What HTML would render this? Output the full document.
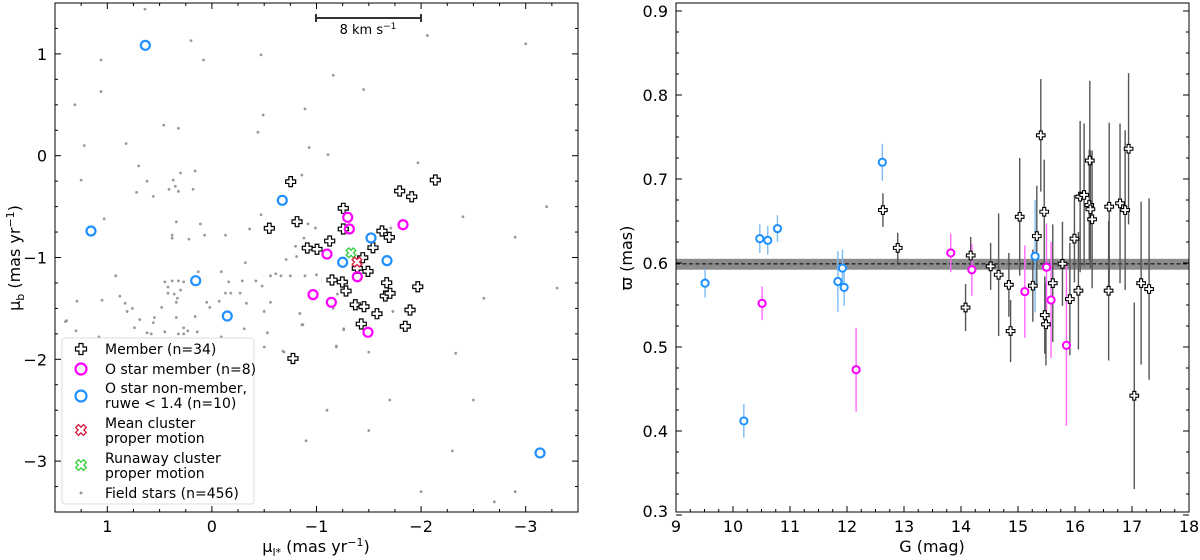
<!DOCTYPE html>
<html><head><meta charset="utf-8"><style>
body{margin:0;background:#fff}
svg{display:block;font-family:"DejaVu Sans","Liberation Sans",sans-serif}
</style></head><body>
<svg id="c" width="1200" height="560" viewBox="0 0 1200 560"></svg>
<script>
// ---------- Left panel data (proper motions, mas/yr) ----------
const memMuL=[-0.753,-0.549,-0.814,-1.256,-1.256,-1.126,-0.912,-1.005,-1.795,-1.910,-2.136,-1.626,-1.696,-1.540,-1.442,-1.390,-1.492,-1.148,-1.247,-1.282,-1.671,-1.968,-1.658,-1.703,-1.371,-1.454,-1.578,-1.894,-1.428,-1.849,-0.775];
const memMuB=[-0.255,-0.713,-0.648,-0.517,-0.720,-0.838,-0.907,-0.919,-0.347,-0.403,-0.239,-0.740,-0.802,-0.904,-1.002,-1.106,-1.136,-1.221,-1.241,-1.329,-1.248,-1.287,-1.378,-1.352,-1.464,-1.483,-1.552,-1.516,-1.653,-1.676,-1.992];
const oMemMuL=[-1.298,-1.314,-1.827,-1.100,-1.390,-0.967,-1.142,-1.492];
const oMemMuB=[-0.605,-0.720,-0.678,-0.966,-1.189,-1.365,-1.440,-1.735];
const oNonMuL=[0.636,-0.673,1.156,0.155,-0.147,-1.250,-1.521,-1.674,-3.137];
const oNonMuB=[1.084,-0.438,-0.740,-1.228,-1.575,-1.047,-0.808,-1.031,-2.92];
const meanPM=[-1.387,-1.044];
const runawayPM=[-1.330,-0.953];
const fieldMuL=[0.64,0.20,0.08,1.06,1.06,-0.47,-1.16,1.31,-0.49,-0.89,0.46,0.32,-0.44,1.22,0.82,-0.93,-1.11,0.70,0.30,0.16,-0.86,1.25,0.62,0.37,0.35,0.41,0.32,0.18,0.72,0.56,1.03,-0.47,0.34,0.11,-0.36,-0.92,-0.99,0.38,0.38,0.22,0.07,-0.13,-0.88,-0.71,-0.81,-0.32,-0.80,0.92,0.13,-0.09,0.45,0.38,0.32,0.27,-0.16,-0.29,-0.42,-0.56,-0.61,-0.66,-0.75,-0.89,0.42,0.42,0.36,0.30,-0.13,-0.18,-0.27,-0.48,0.88,0.33,-0.07,-0.33,-0.56,1.29,1.05,0.83,0.76,0.81,0.48,0.34,0.05,0.02,-0.50,-0.84,-1.16,1.39,1.40,0.69,0.55,0.56,0.34,0.16,-0.86,0.74,1.30,0.27,0.23,0.14,-0.31,0.62,0.58,0.45,0.32,0.27,1.08,-0.09,-0.53,-1.19,-1.26,-0.68,-0.50,-2.06,-1.45,-1.97,-1.71,-1.00,-1.20,-0.84,-0.87,-1.26,-1.73,-1.19,-0.69,-1.50,-2.33,-3.2,-3.3,-2.9,-2.7,-2.5,-2.0,-1.7,-1.1,-0.9,-1.5,-2.3,-2.6,-2.9,-3.0,-2.4];
const fieldMuB=[1.44,1.13,0.94,0.94,0.63,0.99,0.79,0.50,0.40,0.46,0.30,0.27,0.23,0.10,0.12,0.08,0.01,-0.10,-0.17,-0.15,-0.19,-0.24,-0.25,-0.24,-0.30,-0.33,-0.35,-0.33,-0.36,-0.40,-0.62,-0.58,-0.65,-0.67,-0.72,-0.67,-0.71,-0.78,-0.81,-0.82,-0.78,-0.78,-0.81,-1.02,-0.99,-1.05,-0.89,-1.18,-1.14,-1.14,-1.24,-1.23,-1.23,-1.24,-1.24,-1.23,-1.23,-1.18,-1.16,-1.18,-1.18,-1.18,-1.29,-1.35,-1.36,-1.32,-1.35,-1.35,-1.35,-1.28,-1.38,-1.40,-1.43,-1.45,-1.44,-1.43,-1.42,-1.45,-1.50,-1.53,-1.49,-1.44,-1.44,-1.49,-1.53,-1.55,-1.50,-1.62,-1.63,-1.61,-1.59,-1.64,-1.59,-1.58,-1.66,-1.69,-1.72,-1.69,-1.72,-1.73,-1.70,-1.74,-1.75,-1.73,-1.75,-1.75,-1.78,-1.78,-1.74,-1.87,-1.70,-1.92,-1.88,1.18,0.65,-0.07,-0.71,-1.17,-1.36,-1.55,-1.66,-1.71,-1.53,-1.88,-1.93,-1.93,-1.94,-0.5,-1.3,-3.3,-3.4,-2.4,-3.3,-2.4,-2.5,-2.8,-2.7,-2.9,-1.4,-0.8,1.1,-0.6];
const leftXTicks=[1,0,-1,-2,-3];
const leftYTicks=[1,0,-1,-2,-3];

// ---------- Right panel data (G mag, parallax mas, error) ----------
const memG=[12.63,12.89,14.17,14.08,14.52,14.66,14.84,14.87,15.03,15.26,15.33,15.40,15.46,15.61,15.47,15.49,15.78,15.91,15.99,16.06,16.09,16.16,16.26,16.25,16.27,16.30,16.60,16.59,16.79,16.88,16.94,17.04,17.16,17.30];
const memPlx=[0.663,0.618,0.609,0.547,0.596,0.586,0.574,0.519,0.655,0.573,0.632,0.752,0.661,0.576,0.538,0.527,0.599,0.557,0.629,0.567,0.679,0.681,0.722,0.669,0.664,0.652,0.667,0.567,0.671,0.663,0.736,0.442,0.576,0.569];
const memErr=[0.02,0.018,0.022,0.028,0.028,0.073,0.038,0.037,0.07,0.043,0.06,0.067,0.062,0.07,0.046,0.049,0.05,0.067,0.052,0.07,0.09,0.085,0.095,0.066,0.07,0.082,0.1,0.083,0.095,0.095,0.09,0.111,0.097,0.108];
const oMemG=[10.51,12.16,13.82,14.19,15.12,15.50,15.58,15.85];
const oMemPlx=[0.552,0.473,0.612,0.592,0.566,0.595,0.556,0.502];
const oMemErr=[0.02,0.05,0.023,0.031,0.055,0.052,0.069,0.096];
const oNonG=[9.51,10.19,10.47,10.61,10.78,11.84,11.92,11.95,12.62,15.30];
const oNonPlx=[0.576,0.412,0.629,0.627,0.641,0.578,0.594,0.571,0.72,0.608];
const oNonErr=[0.017,0.02,0.017,0.017,0.016,0.036,0.022,0.022,0.022,0.067];
const meanPlx=0.599, meanPlxLo=0.592, meanPlxHi=0.605;
const rightXTicks=[9,10,11,12,13,14,15,16,17,18];
const rightYTicks=[0.3,0.4,0.5,0.6,0.7,0.8,0.9];

const NS='http://www.w3.org/2000/svg';
const svg=document.getElementById('c');
function mk(tag,attrs,parent){const e=document.createElementNS(NS,tag);for(const k in attrs)e.setAttribute(k,attrs[k]);(parent||svg).appendChild(e);return e;}

const L={x0:55,x1:578,y0:3,y1:512};
const lx=v=>L.x0+(1.5-v)*(L.x1-L.x0)/5;
const ly=v=>L.y0+(1.5-v)*(L.y1-L.y0)/5;
const R={x0:676,x1:1189,y0:3,y1:512};
const rx=v=>R.x0+(v-9)*(R.x1-R.x0)/9;
const ry=v=>263-(v-0.6)*840;

function plusPts(a,b){return [[-b,-a],[b,-a],[b,-b],[a,-b],[a,b],[b,b],[b,a],[-b,a],[-b,b],[-a,b],[-a,-b],[-b,-b]].map(p=>p.join(',')).join(' ');}

const gL=mk('g',{});


fieldMuL.forEach((v,i)=>{
  const d=mk('circle',{cx:lx(v),cy:ly(fieldMuB[i]),r:1.4,fill:'#999'},gL);
  
  
});
memMuL.forEach((v,i)=>{
  const p=mk('polygon',{points:plusPts(5,1.8),transform:`translate(${lx(v)},${ly(memMuB[i])})`,fill:'#fff',stroke:'#000','stroke-width':1.2},gL);
  
  
});
oMemMuL.forEach((v,i)=>{
  const c=mk('circle',{cx:lx(v),cy:ly(oMemMuB[i]),r:4.5,fill:'none',stroke:'#ff00ff','stroke-width':2.2},gL);
  
  
});
oNonMuL.forEach((v,i)=>{
  const c=mk('circle',{cx:lx(v),cy:ly(oNonMuB[i]),r:4.5,fill:'none',stroke:'#1e90ff','stroke-width':2.2},gL);
  
  
});
{
  const m=mk('polygon',{points:plusPts(5,1.8),transform:`translate(${lx(runawayPM[0])},${ly(runawayPM[1])}) rotate(45)`,fill:'#fff',stroke:'#33cc33','stroke-width':1.3},gL);
  
  
  const r=mk('polygon',{points:plusPts(5,1.8),transform:`translate(${lx(meanPM[0])},${ly(meanPM[1])}) rotate(45)`,fill:'#fff',stroke:'#dc143c','stroke-width':1.3},gL);
  
  
}
function frame(A,g){
  const f=mk('rect',{x:A.x0,y:A.y0,width:A.x1-A.x0,height:A.y1-A.y0,fill:'none',stroke:'#000','stroke-width':1},g);
  
  
}
frame(L,gL);
for(let k=0;k<=20;k++){
  const v=1.5-k*0.25, major=Math.abs(v-Math.round(v))<1e-6, len=major?6:3;
  const x=lx(v);
  mk('line',{x1:x,y1:L.y1,x2:x,y2:L.y1-len,stroke:'#000'},gL);
  mk('line',{x1:x,y1:L.y0,x2:x,y2:L.y0+len,stroke:'#000'},gL);
  const y=ly(v);
  mk('line',{x1:L.x0,y1:y,x2:L.x0+len,y2:y,stroke:'#000'},gL);
  mk('line',{x1:L.x1,y1:y,x2:L.x1-len,y2:y,stroke:'#000'},gL);
}
const fmt=v=>(v<0?'\u2212':'')+Math.abs(v);
leftXTicks.forEach(v=>{const t=mk('text',{x:lx(v),y:532,'font-size':16,'text-anchor':'middle'},gL);t.textContent=fmt(v);});
leftYTicks.forEach(v=>{const t=mk('text',{x:47,y:ly(v)+6,'font-size':16,'text-anchor':'end'},gL);t.textContent=fmt(v);});

(function(){
function T(x,y,html,attrs,name){const t=mk('text',Object.assign({x:x,y:y,'font-size':16},attrs||{}));t.innerHTML=html;return t;}
T(316,552,'μ<tspan font-size="11" dy="4">l*</tspan><tspan dy="-4"> (mas yr</tspan><tspan font-size="11" dy="-6">−1</tspan><tspan dy="6">)</tspan>',{'text-anchor':'middle'},'x-axis-title');
T(0,0,'μ<tspan font-size="11" dy="4">b</tspan><tspan dy="-4"> (mas yr</tspan><tspan font-size="11" dy="-6">−1</tspan><tspan dy="6">)</tspan>',{'text-anchor':'middle',transform:'translate(20,258) rotate(-90)'},'y-axis-title');
const sb=mk('g',{});


mk('line',{x1:316,y1:18,x2:421,y2:18,stroke:'#333','stroke-width':2},sb);
mk('line',{x1:316,y1:14,x2:316,y2:22,stroke:'#333','stroke-width':2},sb);
mk('line',{x1:421,y1:14,x2:421,y2:22,stroke:'#333','stroke-width':2},sb);
const st=mk('text',{x:368,y:34,'font-size':13,'text-anchor':'middle'},sb);
st.innerHTML='8 km s<tspan font-size="9" dy="-5">−1</tspan>';
const lg=mk('g',{});


mk('rect',{x:62,y:338,width:192,height:166,rx:3,fill:'#fff','fill-opacity':0.85,stroke:'#ddd'},lg);
mk('polygon',{points:plusPts(5.5,2),transform:'translate(81,349)',fill:'#fff',stroke:'#000','stroke-width':1.2},lg);
mk('circle',{cx:81,cy:369,r:5.5,fill:'none',stroke:'#ff00ff','stroke-width':2.2},lg);
mk('circle',{cx:81,cy:396,r:5.5,fill:'none',stroke:'#1e90ff','stroke-width':2.2},lg);
mk('polygon',{points:plusPts(5.5,2),transform:'translate(81,430) rotate(45)',fill:'#fff',stroke:'#dc143c','stroke-width':1.3},lg);
mk('polygon',{points:plusPts(5.5,2),transform:'translate(81,465) rotate(45)',fill:'#fff',stroke:'#33cc33','stroke-width':1.3},lg);
mk('circle',{cx:81,cy:493,r:1.5,fill:'#999'},lg);
[['Member (n=34)',354],['O star member (n=8)',374],['O star non-member,',393],['ruwe < 1.4 (n=10)',408],['Mean cluster',428],['proper motion',443],['Runaway cluster',463],['proper motion',478],['Field stars (n=456)',498]].forEach(a=>{
  const t=mk('text',{x:105,y:a[1],'font-size':14},lg);t.textContent=a[0];
  
  
});

const gR=mk('g',{});


const band=mk('rect',{x:R.x0,y:ry(meanPlxHi),width:R.x1-R.x0,height:ry(meanPlxLo)-ry(meanPlxHi),fill:'#8c8c8c'},gR);


const ml=mk('line',{x1:R.x0,y1:ry(meanPlx),x2:R.x1,y2:ry(meanPlx),stroke:'#000','stroke-width':1,'stroke-dasharray':'4,2.5'},gR);


function errs(G,P,E,col,name){G.forEach((g,i)=>{const l=mk('line',{x1:rx(g),x2:rx(g),y1:ry(P[i]-E[i]),y2:ry(P[i]+E[i]),stroke:col,'stroke-width':1.4},gR);});}
errs(memG,memPlx,memErr,'#555','member-error-bar');
errs(oMemG,oMemPlx,oMemErr,'#ff66ff','o-member-error-bar');
errs(oNonG,oNonPlx,oNonErr,'#7cbcf5','o-non-member-error-bar');
memG.forEach((g,i)=>{const p=mk('polygon',{points:plusPts(4.3,1.5),transform:`translate(${rx(g)},${ry(memPlx[i])})`,fill:'#fff',stroke:'#000','stroke-width':1.1},gR);});
oMemG.forEach((g,i)=>{const c=mk('circle',{cx:rx(g),cy:ry(oMemPlx[i]),r:3.6,fill:'#fff',stroke:'#ff00ff','stroke-width':2},gR);});
oNonG.forEach((g,i)=>{const c=mk('circle',{cx:rx(g),cy:ry(oNonPlx[i]),r:3.6,fill:'#fff',stroke:'#1e90ff','stroke-width':2},gR);});
frame(R,gR);
for(let k=0;k<=36;k++){const v=9+k*0.25,major=k%4==0,len=major?6:3,x=rx(v);
  mk('line',{x1:x,y1:R.y1,x2:x,y2:R.y1-len,stroke:'#000'},gR);}
for(let k=0;k<=24;k++){const v=0.3+k*0.025,major=k%4==0,len=major?6:3,y=ry(v);
  if(y<R.y0-0.5)continue;
  mk('line',{x1:R.x0,y1:y,x2:R.x0+len,y2:y,stroke:'#000'},gR);
  mk('line',{x1:R.x1,y1:y,x2:R.x1-len,y2:y,stroke:'#000'},gR);}
rightXTicks.forEach(v=>{const t=mk('text',{x:rx(v),y:532,'font-size':16,'text-anchor':'middle'},gR);t.textContent=v;});
rightYTicks.forEach(v=>{const t=mk('text',{x:668,y:Math.min(ry(v)+6,517),'font-size':16,'text-anchor':'end'},gR);t.textContent=v.toFixed(1);});
T(932,552,'G (mag)',{'text-anchor':'middle'},'x-axis-title-right');
T(0,0,'ϖ (mas)',{'text-anchor':'middle',transform:'translate(632,258) rotate(-90)'},'y-axis-title-right');
})();
</script>
</body></html>
